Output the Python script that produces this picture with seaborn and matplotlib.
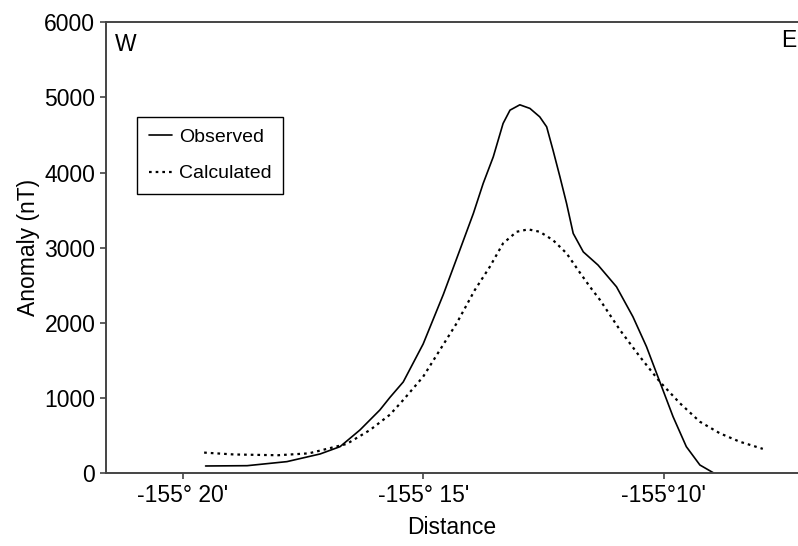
import matplotlib
matplotlib.use("Agg")
import matplotlib.pyplot as plt
import seaborn as sns
import pandas as pd

# Longitude (decimal degrees) and magnetic anomaly (nT)
obs_lon = [-155.3255, -155.3111, -155.2973, -155.2858, -155.2789, -155.2720, -155.2651,
           -155.2616, -155.2570, -155.2501, -155.2431, -155.2374, -155.2327,
           -155.2293, -155.2258, -155.2224, -155.2200, -155.2166, -155.2131, -155.2097,
           -155.2073, -155.2051, -155.2027, -155.2004, -155.1981, -155.1946, -155.1895,
           -155.1831, -155.1774, -155.1727, -155.1681, -155.1635, -155.1589, -155.1542,
           -155.1496]
obs_val = [97, 101, 155, 257, 354, 576, 842,
           1010, 1215, 1720, 2380, 2969, 3457,
           3856, 4210, 4654, 4831, 4902, 4854, 4742,
           4609, 4299, 3944, 3590, 3191, 2945, 2770,
           2481, 2082, 1684, 1218, 753, 354, 110,
           8]

calc_lon = [-155.3260, -155.3156, -155.3004, -155.2897, -155.2766, -155.2685, -155.2616,
            -155.2570, -155.2501, -155.2443, -155.2385, -155.2322, -155.2270, -155.2224,
            -155.2177, -155.2137, -155.2097, -155.2051, -155.2004, -155.1958, -155.1923,
            -155.1888, -155.1819, -155.1750, -155.1681, -155.1611, -155.1542, -155.1473,
            -155.1404, -155.1324]
calc_val = [275, 250, 240, 265, 390, 576, 780,
            975, 1285, 1640, 1995, 2438, 2747, 3059,
            3213, 3245, 3213, 3102, 2926, 2670, 2481,
            2305, 1906, 1551, 1218, 931, 686, 532,
            420, 325]

xtick_pos = [-155 - 20 / 60, -155 - 15 / 60, -155 - 10 / 60]
xtick_labels = ["-155\u00b0 20'", "-155\u00b0 15'", "-155\u00b010'"]
ytick_pos = [0, 1000, 2000, 3000, 4000, 5000, 6000]

obs_df = pd.DataFrame({"lon": obs_lon, "val": obs_val})
calc_df = pd.DataFrame({"lon": calc_lon, "val": calc_val})

sns.set_style("ticks")
plt.rcParams["font.family"] = ["Liberation Sans", "DejaVu Sans"]
plt.rcParams["text.color"] = "black"
plt.rcParams["axes.labelcolor"] = "black"
plt.rcParams["xtick.color"] = "black"
plt.rcParams["ytick.color"] = "black"

fig = plt.figure(figsize=(7.98, 5.46), dpi=100)
ax = fig.add_axes([0.1325, 0.1332, 0.8675, 0.826])

sns.lineplot(data=obs_df, x="lon", y="val", ax=ax, color="black", lw=1.2,
             label="Observed")
sns.lineplot(data=calc_df, x="lon", y="val", ax=ax, color="black", lw=1.6,
             linestyle=(0, (1.2, 1.8)), label="Calculated")

ax.set_xlim(-155.3601, -155.1202)
ax.set_ylim(0, 6000)
ax.set_xticks(xtick_pos)
ax.set_xticklabels(xtick_labels)
ax.set_yticks(ytick_pos)
ax.tick_params(axis="both", labelsize=16.5, length=4.5, width=1.2,
               pad=3, direction="out", colors="black")
ax.tick_params(axis="both", color="#444444")
ax.set_xlabel("Distance", fontsize=16.5, labelpad=7)
ax.set_ylabel("Anomaly (nT)", fontsize=16.5, labelpad=3)

for side in ["left", "bottom", "top"]:
    ax.spines[side].set_color("#444444")
    ax.spines[side].set_linewidth(1.4)
ax.spines["right"].set_visible(False)

ax.text(0.013, 0.95, "W", transform=ax.transAxes, fontsize=16.5, va="center", ha="left")
ax.text(0.997, 0.96, "E", transform=ax.transAxes, fontsize=16.5, va="center", ha="right")

leg = ax.legend(loc="upper left", bbox_to_anchor=(0.0455, 0.79), fontsize=14,
                frameon=True, fancybox=False, edgecolor="black", framealpha=1,
                handlelength=1.2, handletextpad=0.35, borderpad=0.6, labelspacing=0.95,
                borderaxespad=0)
leg.get_frame().set_linewidth(1.0)

fig.savefig("out.png", dpi=100)
